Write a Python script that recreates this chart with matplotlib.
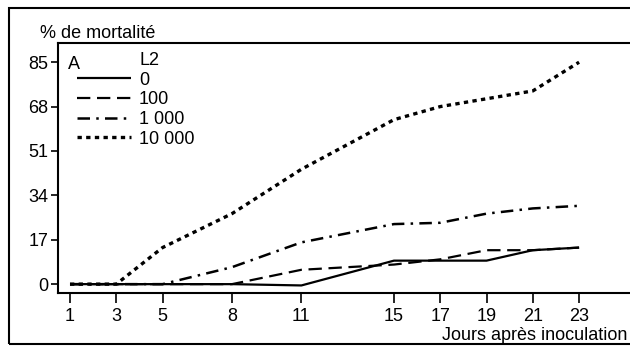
import matplotlib
matplotlib.use("Agg")
import matplotlib.pyplot as plt
from matplotlib.patches import Rectangle

plt.rcParams['font.family'] = ['Liberation Sans', 'DejaVu Sans']

# Days after inoculation and mortality (%) per L2 dose
days = [1, 3, 5, 8, 11, 15, 17, 19, 21, 23]
dose_labels = ['0', '100', '1 000', '10 000']
mort_0 = [0, 0, 0, 0, -0.5, 9, 9, 9, 13, 14]
mort_100 = [0, 0, 0, 0, 5.5, 7.5, 9.5, 13, 13, 14]
mort_1000 = [0, 0, 0, 6.5, 16, 23, 23.5, 27, 29, 30]
mort_10000 = [0, 0, 14, 27, 44, 63, 68, 71, 74, 85]
yticks = [0, 17, 34, 51, 68, 85]

series = [mort_0, mort_100, mort_1000, mort_10000]
styles = [
    dict(linestyle='-', linewidth=1.6),
    dict(linestyle=(0, (6, 3)), linewidth=1.6),
    dict(linestyle=(0, (5, 2.5, 1, 2.5)), linewidth=1.8),
    dict(linestyle=(0, (1.3, 1.3)), linewidth=2.4),
]

fig = plt.figure(figsize=(6.3, 3.48), dpi=100)
ax = fig.add_axes([0.092, 0.158, 0.908, 0.718])

for vals, st in zip(series, styles):
    ax.plot(days, vals, color='black', solid_capstyle='butt', **st)

ax.set_xlim(0.48, 25.2)
ax.set_ylim(-3.4, 92.3)
ax.set_xticks(days)
ax.set_yticks(yticks)
ax.tick_params(axis='y', direction='out', length=5, width=1.2, labelsize=13, pad=2)
ax.tick_params(axis='x', direction='out', length=7, width=1.2, labelsize=13, pad=4)
ax.spines['right'].set_visible(False)
for s in ['left', 'bottom', 'top']:
    ax.spines[s].set_linewidth(1.5)

# Legend drawn by hand, as in the original figure
ax.text(0.017, 0.95, 'A', transform=ax.transAxes, fontsize=13, va='top')
ax.text(0.143, 0.965, 'L2', transform=ax.transAxes, fontsize=13, va='top')
leg = ax.legend([ax.lines[i] for i in range(4)], dose_labels, loc='upper left',
                bbox_to_anchor=(0.02, 0.915), frameon=False, fontsize=13,
                handlelength=3.0, handletextpad=0.45, labelspacing=0.15,
                borderaxespad=0)

fig.text(0.064, 0.905, '% de mortalité', fontsize=13, va='center')
fig.text(0.996, 0.037, 'Jours après inoculation', fontsize=13, va='center', ha='right')

fig.patches.append(Rectangle((0.014, 0.011), 1.2, 0.966, transform=fig.transFigure,
                             fill=False, edgecolor='black', linewidth=1.5))

fig.savefig('out.png', dpi=100)
